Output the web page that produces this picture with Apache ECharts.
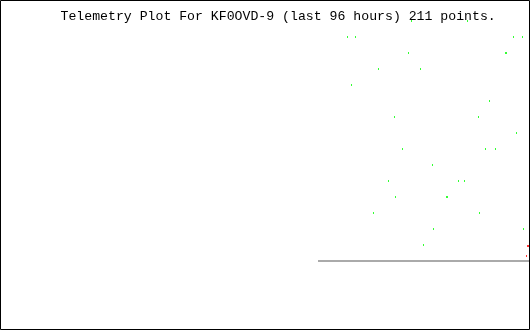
<!DOCTYPE html>
<html><head><meta charset="utf-8">
<script src="https://cdn.jsdelivr.net/npm/echarts@6/dist/echarts.min.js"></script>
<style>html,body{margin:0;padding:0;background:#fff}#c{width:530px;height:330px}</style>
</head><body><div id="c"></div>
<script>
const titleText = "Telemetry Plot For KF0OVD-9 (last 96 hours) 211 points.";
// hours relative to now (negative = past)
const greenHours = [-32.818,-32.091,-31.364,-28.091,-27.182,-25.364,-24.273,-24.091,-22.818,-21.727,-21.182,-19.545,-19.000,-17.364,-17.182,-14.818,-14.636,-12.636,-11.545,-11.000,-9.000,-8.818,-7.727,-7.000,-5.909,-4.091,-3.909,-2.636,-2.091,-1.000,-0.818];
const greenValues = [14,11,14,3,12,5,9,4,7,13,15,12,1,6,2,4,4,5,5,15,9,3,7,10,7,13,13,14,8,14,2];
const redHours = [-0.273,-0.091,0.091];
const redValues = [0.3125,0.9375,0.9375];
const baseHours = [-38.182,0.182];
const baseValues = [0,0];

const chart = echarts.init(document.getElementById('c'), null, {renderer:'canvas'});
const zip = (a,b)=>a.map((v,i)=>[v,b[i]]);
chart.setOption({
  animation:false,
  backgroundColor:'#fff',
  grid:{left:0,right:0,top:5,bottom:69,containLabel:false},
  xAxis:{type:'value',min:-96,max:2/5.5,show:false,splitLine:{show:false}},
  yAxis:{type:'value',min:0,max:16,show:false,splitLine:{show:false}},
  series:[
    {type:'line',data:zip(baseHours,baseValues),symbol:'none',lineStyle:{color:'#aaaaaa',width:2},silent:true,z:1},
    {type:'scatter',data:zip(greenHours,greenValues),symbol:'rect',symbolSize:[1,2],itemStyle:{color:'#00ff00'},silent:true,z:3},
    {type:'scatter',data:zip(redHours,redValues),symbol:'rect',symbolSize:[1,2],itemStyle:{color:'#ff0000'},silent:true,z:3}
  ],
  graphic:[
    {type:'text',x:60.5,y:17,z:2,silent:true,style:{text:titleText,fill:'#000',font:'13.2px "Liberation Mono"',verticalAlign:'middle',align:'left'}},
    {type:'rect',z:100,silent:true,shape:{x:0.5,y:0.5,width:529,height:329},style:{fill:null,stroke:'#000',lineWidth:1}}
  ]
});
</script></body></html>
